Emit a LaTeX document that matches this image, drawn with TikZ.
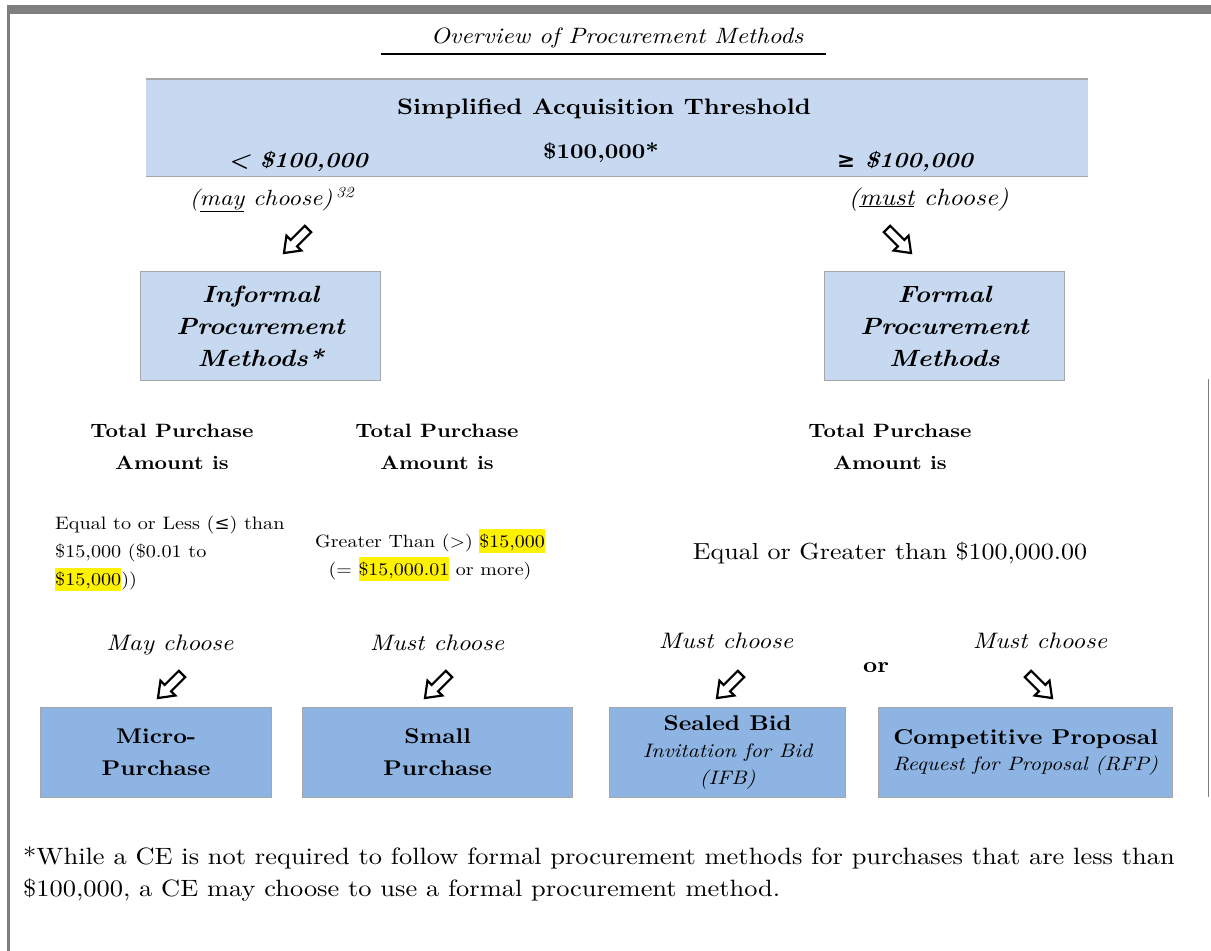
\documentclass[tikz,border=0pt]{standalone}
\usepackage{fontspec}
\setmainfont{lmroman10}[Extension=.otf, UprightFont=*-regular, BoldFont=*-bold,
  ItalicFont=*-italic, BoldItalicFont=*-bolditalic, FakeStretch=1.12]
\newfontfamily\dv{DejaVu Serif}
\definecolor{framegray}{HTML}{7F7F7F}
\definecolor{lightblue}{HTML}{C6D9F1}
\definecolor{midblue}{HTML}{8DB4E2}
\definecolor{boxline}{HTML}{A6A6A6}
\newcommand{\fsz}[2]{\fontsize{#1}{#2}\selectfont}
\newcommand{\hl}[1]{{\setlength{\fboxsep}{0pt}\colorbox{yellow}{\rule[-0.3em]{0pt}{1.3em}#1}}}
\tikzset{
  hollow arrow/.pic={
    \draw[line width=2.2, fill=white, line join=miter]
      (-17,-4.5) -- (3,-4.5) -- (3,-10.5) -- (17,0) -- (3,10.5) -- (3,4.5) -- (-17,4.5) -- cycle;
  },
  topbox/.style={fill=lightblue, draw=boxline, line width=1.2, align=center,
    inner sep=0, minimum width=240, minimum height=109, anchor=north west,
    font=\fsz{23.5}{32}\bfseries\itshape},
  botbox/.style={fill=midblue, draw=boxline, line width=1.2, align=center,
    inner sep=0, minimum height=90, anchor=north west, font=\fsz{21.3}{32}\bfseries},
  tp/.style={font=\fsz{19.3}{32}\bfseries, align=center},
  choose/.style={font=\fsz{22.4}{26}\itshape, anchor=base},
}
\begin{document}
\begin{tikzpicture}[x=1pt,y=-1pt]
\useasboundingbox (0,0) rectangle (1211,951);
% frame
\fill[framegray] (7,5) rectangle (1211,14);
\fill[framegray] (7,5) rectangle (10,951);
\draw[framegray, line width=1.5] (1208.5,379) -- (1208.5,797);
% title
\node[font=\fsz{22.2}{28}\itshape, anchor=base] (title) at (617,43) {Overview of Procurement Methods};
\coordinate (ul1) at (381,54);
\coordinate (ul2) at (826,54);
\draw[line width=1.5] (ul1) -- (ul2);
% banner
\node[fill=lightblue, minimum width=942, minimum height=97, anchor=north west, inner sep=0] (sat) at (146,79) {};
\draw[boxline, line width=1.5] (sat.north west) -- (sat.north east);
\draw[boxline, line width=1.5] (sat.south west) -- (sat.south east);
\node[font=\fsz{22.4}{28}\bfseries, anchor=base] (satt) at (604,114) {Simplified Acquisition Threshold};
\node[font=\fsz{21.5}{28}\bfseries\itshape, anchor=base] (lt) at (298,167) {< \$100,000};
\node[font=\fsz{21}{28}\bfseries, anchor=base] (eq) at (601,158) {\$100,000*};
\node[font=\fsz{21.5}{28}\bfseries\itshape, anchor=base] (ge) at (905,167) {{\dv\upshape ≥} \$100,000};
% may / must choose
\node[font=\fsz{22}{26}\itshape, anchor=base west] (may) at (186,205) {(\underline{may} choose)\,\textsuperscript{32}};
\node[font=\fsz{23.5}{26}\itshape, anchor=base west] (must) at (845,205) {(\underline{must} choose)};
\pic[rotate=-135] at (296,241) {hollow arrow};
\pic[rotate=-45] at (899,241) {hollow arrow};
% method boxes
\node[topbox] (inf) at (140,271) {Informal\\Procurement\\Methods*};
\node[topbox] (form) at (824,271) {Formal\\Procurement\\Methods};
% total purchase
\node[tp] (tp1) at (172,447) {Total Purchase\\Amount is};
\node[tp] (tp2) at (437,447) {Total Purchase\\Amount is};
\node[tp] (tp3) at (890,447) {Total Purchase\\Amount is};
% amounts
\node[font=\fsz{18}{28}, align=left, anchor=north west, inner sep=0] (c1) at (55,516)
  {Equal to or Less ({\dv ≤}) than\\\$15,000 (\$0.01 to\\\hl{\$15,000}))};
\node[font=\fsz{17.8}{28}, align=center, inner sep=0] (c2) at (430,555)
  {Greater Than (>) \hl{\$15,000}\\(= \hl{\$15,000.01} or more)};
\node[font=\fsz{23.2}{28}, anchor=base] (c3) at (890,559) {Equal or Greater than \$100,000.00};
% choose labels
\node[choose] (ch1) at (170,650) {May choose};
\node[choose] (ch2) at (437,650) {Must choose};
\node[choose] (ch3) at (726,648) {Must choose};
\node[choose] (ch4) at (1040,648) {Must choose};
\node[font=\fsz{22}{26}\bfseries, anchor=base] (or) at (876,672) {or};
\pic[rotate=-135] at (170,686) {hollow arrow};
\pic[rotate=-135] at (437,686) {hollow arrow};
\pic[rotate=-135] at (729,686) {hollow arrow};
\pic[rotate=-45] at (1040,686) {hollow arrow};
% bottom boxes
\node[botbox, minimum width=231] (micro) at (40,707) {Micro-\\Purchase};
\node[botbox, minimum width=270] (small) at (302,707) {Small\\Purchase};
\node[botbox, minimum width=236, font=\fsz{21.3}{27}\bfseries] (sealed) at (609,707)
  {Sealed Bid\\{\mdseries\itshape\fsz{19.5}{27}Invitation for Bid}\\{\mdseries\itshape\fsz{19.5}{27}(IFB)}};
\node[botbox, minimum width=294, font=\fsz{21.5}{26}\bfseries] (comp) at (878,707)
  {Competitive Proposal\\{\mdseries\itshape\fsz{19.4}{26}Request for Proposal (RFP)}};
% footnote
\node[font=\fsz{23.6}{32}, align=left, anchor=north west, inner sep=0] (fn) at (23,847)
  {*While a CE is not required to follow formal procurement methods for purchases that are less than\\\$100,000, a CE may choose to use a formal procurement method.};
\end{tikzpicture}
\end{document}
